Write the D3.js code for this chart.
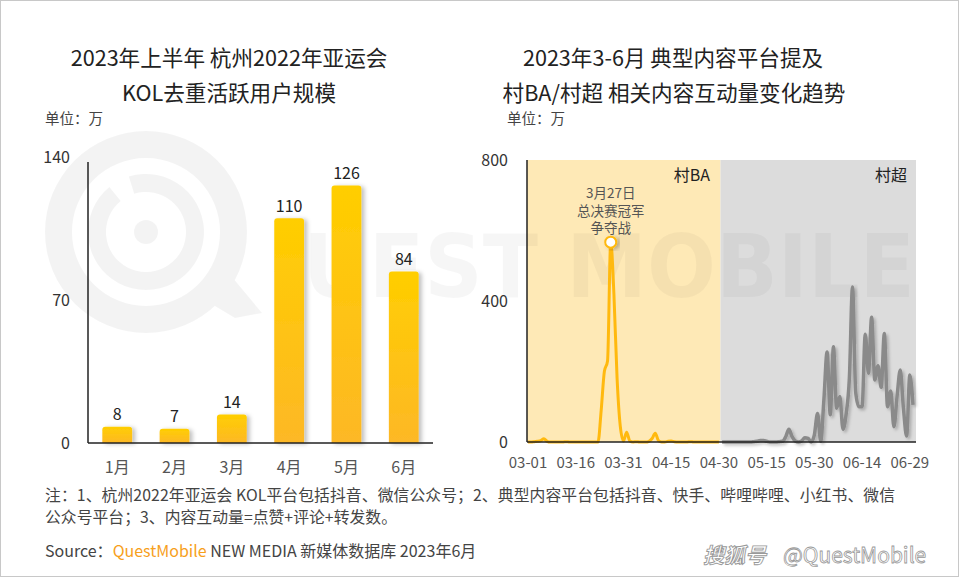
<!DOCTYPE html>
<html><head><meta charset="utf-8">
<script src="https://cdn.jsdelivr.net/npm/d3@7"></script>
<style>
html,body{margin:0;padding:0;background:#fff;}
svg{display:block;font-family:"Noto Sans CJK SC","Microsoft YaHei",sans-serif;}
</style></head>
<body><svg id="c" width="960" height="578"></svg>
<script>
// ---------- data ----------
const months = ["1月","2月","3月","4月","5月","6月"];
const kolUsers = [8, 7, 14, 110, 126, 84];
const leftTicks = [0, 70, 140];

// 村BA daily interaction (万), 03-01 .. 04-30
const cunBA = [0,0,1,2,4,9,2,0,0,0, 0,0,1,0,0,0,0,0,0,0,
               0,0,0,90,200,230,567,420,180,45, 3,28,3,0,1,0,0,0,2,10,
               25,4,0,0,2,3,1,0,0,0, 0,1,0,0,0,0,0,0,0,0, 0];
// 村超 daily interaction (万), 05-01 .. 06-30
const cunChao = [0,0,0,0,0,0,0,0,0,0, 1,2,4,4,2,0,0,0,1,2,
                 15,36,15,3,0,3,12,10,0,20, 81,2,120,255,77,270,96,129,36,80,
                 180,440,140,100,100,306,195,354,176,216, 155,308,100,145,43,130,204,95,17,190, 105];
const rightTicks = [0, 400, 800];
const dateTicks = ["03-01","03-16","03-31","04-15","04-30","05-15","05-30","06-14","06-29"];
const peakDate = "03-27";
const peakNote = ["3月27日","总决赛冠军","争夺战"];

// ---------- setup ----------
const svg = d3.select("#c");
const defs = svg.append("defs");
const g1 = defs.append("linearGradient").attr("id","barGrad").attr("x1",0).attr("y1",0).attr("x2",0).attr("y2",1);
g1.append("stop").attr("offset","0%").attr("stop-color","#FFCE00");
g1.append("stop").attr("offset","100%").attr("stop-color","#FDB826");
const sh = defs.append("filter").attr("id","shadow").attr("x","-20%").attr("y","-20%").attr("width","150%").attr("height","150%");
sh.append("feDropShadow").attr("dx",3).attr("dy",1).attr("stdDeviation",2).attr("flood-color","#000").attr("flood-opacity",0.25);
const sh2 = defs.append("filter").attr("id","lshadow").attr("x","-5%").attr("y","-5%").attr("width","110%").attr("height","115%");
sh2.append("feDropShadow").attr("dx",2).attr("dy",2).attr("stdDeviation",1.5).attr("flood-color","#000").attr("flood-opacity",0.22);

svg.append("rect").attr("x",0.5).attr("y",0.5).attr("width",958).attr("height",576)
  .attr("fill","#fff").attr("stroke","#c8c8c8");

// ---------- titles ----------
const title = (x, y, t, size, col) => svg.append("text").attr("x",x).attr("y",y).attr("text-anchor","middle")
  .attr("font-size",size).attr("fill",col||"#222").text(t);
title(229, 66, "2023年上半年 杭州2022年亚运会", 21.6);
title(229, 101, "KOL去重活跃用户规模", 21.6);
title(673, 66, "2023年3-6月 典型内容平台提及", 21.6);
title(674, 101, "村BA/村超 相关内容互动量变化趋势", 21.6);
svg.append("text").attr("x",45).attr("y",124).attr("font-size",14.5).attr("fill","#444").text("单位：万");
svg.append("text").attr("x",507).attr("y",124).attr("font-size",14.5).attr("fill","#444").text("单位：万");

// ---------- right chart backgrounds ----------
const parse = d3.timeParse("%Y-%m-%d");
const d0 = parse("2023-03-01"), dEnd = parse("2023-06-30");
const xR = d3.scaleTime().domain([d0, dEnd]).range([528, 913]);
const yR = d3.scaleLinear().domain([0, 800]).range([442, 160]);
const baDates = d3.timeDay.range(d0, parse("2023-05-01"));
const chaoDates = d3.timeDay.range(parse("2023-05-01"), parse("2023-07-01"));
const step = xR(parse("2023-03-02")) - xR(d0);
const split = xR(parse("2023-04-30")) + step/2;
svg.append("rect").attr("x",527).attr("y",yR(800)).attr("width",split-527).attr("height",yR(0)-yR(800)).attr("fill","#FEE9B6");
svg.append("rect").attr("x",split).attr("y",yR(800)).attr("width",916-split).attr("height",yR(0)-yR(800)).attr("fill","#DCDCDC");

// ---------- watermark ----------
const wm = svg.append("g").attr("fill","#000").attr("opacity",0.045);
wm.append("path")
  .attr("d", d3.arc()({innerRadius:74,outerRadius:101,startAngle:0,endAngle:2*Math.PI}))
  .attr("transform","translate(146,232)");
wm.append("path")
  .attr("d", d3.arc()({innerRadius:40,outerRadius:58,startAngle:-0.3,endAngle:5.6}))
  .attr("transform","translate(146,232)");
wm.append("circle").attr("cx",146).attr("cy",232).attr("r",12);
wm.append("path").attr("d","M205,300 L235,318 L262,313 L222,265 Z");
svg.append("text").attr("x",303).attr("y",297).attr("font-size",88)
  .attr("font-family","DejaVu Sans, sans-serif").attr("font-weight","bold")
  .attr("fill","#000").attr("opacity",0.032)
  .attr("textLength",612).attr("lengthAdjust","spacingAndGlyphs").text("UEST MOBILE");

// ---------- left chart ----------
const xL = d3.scaleBand().domain(months).range([88, 433]).paddingInner(0.48).paddingOuter(0.25);
const yL = d3.scaleLinear().domain([0, 140]).range([443, 157]);
const bw = xL.bandwidth(), r = 3;
svg.append("g").selectAll("path").data(months).join("path")
  .attr("fill","url(#barGrad)").attr("filter","url(#shadow)")
  .attr("d",(m,i)=>{
    const x0 = xL(m), y0 = yL(kolUsers[i]), yb = yL(0);
    return `M${x0},${yb} V${y0+r} Q${x0},${y0} ${x0+r},${y0} H${x0+bw-r} Q${x0+bw},${y0} ${x0+bw},${y0+r} V${yb} Z`;
  });
svg.append("g").selectAll("text").data(months).join("text")
  .attr("x",m=>xL(m)+bw/2).attr("y",(m,i)=>yL(kolUsers[i])-6.5)
  .attr("text-anchor","middle").attr("font-size",16).attr("fill","#222")
  .text((m,i)=>kolUsers[i]);
svg.append("g").selectAll("text").data(leftTicks).join("text")
  .attr("x",70).attr("y",d=>yL(d)+6).attr("text-anchor","end")
  .attr("font-size",16).attr("fill","#333").text(d=>d);
svg.append("g").selectAll("text").data(months).join("text")
  .attr("x",m=>xL(m)+bw/2).attr("y",473).attr("text-anchor","middle")
  .attr("font-size",16).attr("fill","#555").text(m=>m);
svg.append("line").attr("x1",88).attr("x2",88).attr("y1",162).attr("y2",yL(0)).attr("stroke","#222").attr("stroke-width",1.5);
svg.append("line").attr("x1",88).attr("x2",433).attr("y1",yL(0)).attr("y2",yL(0)).attr("stroke","#222").attr("stroke-width",1.5);

// ---------- right chart ----------
svg.append("g").selectAll("text").data(rightTicks).join("text")
  .attr("x",508).attr("y",d=>yR(d)+6).attr("text-anchor","end")
  .attr("font-size",16).attr("fill","#333").text(d=>d);
svg.append("g").selectAll("text").data(dateTicks).join("text")
  .attr("x",d=>xR(parse("2023-"+d))).attr("y",468).attr("text-anchor","middle")
  .attr("font-size",15).attr("fill","#555").text(d=>d);

const line = d3.line().x(d=>xR(d[0])).y(d=>yR(d[1])).curve(d3.curveMonotoneX);
svg.append("path").datum(chaoDates.map((d,i)=>[d,cunChao[i]]))
  .attr("d",line).attr("fill","none").attr("stroke","#8A8A8A").attr("stroke-width",3.5)
  .attr("stroke-linejoin","round").attr("filter","url(#lshadow)");
svg.append("path").datum(baDates.map((d,i)=>[d,cunBA[i]]))
  .attr("d",line).attr("fill","none").attr("stroke","#FFB90F").attr("stroke-width",3)
  .attr("stroke-linejoin","round");

svg.append("line").attr("x1",527).attr("x2",527).attr("y1",yR(800)).attr("y2",yR(0)).attr("stroke","#222").attr("stroke-width",1.5);
svg.append("line").attr("x1",527).attr("x2",916).attr("y1",yR(0)).attr("y2",yR(0)).attr("stroke","#222").attr("stroke-width",1.5);

const pd = parse("2023-"+peakDate);
const pv = cunBA[d3.timeDay.count(d0, pd)];
svg.append("circle").attr("cx",xR(pd)).attr("cy",yR(pv)).attr("r",5.5)
  .attr("fill","#fff").attr("stroke","#FFB90F").attr("stroke-width",2).attr("filter","url(#shadow)");
svg.append("g").selectAll("text").data(peakNote).join("text")
  .attr("x",xR(pd)).attr("y",(d,i)=>198+i*17.5).attr("text-anchor","middle")
  .attr("font-size",13.5).attr("fill","#555").text(d=>d);

svg.append("text").attr("x",710).attr("y",181).attr("text-anchor","end").attr("font-size",16).attr("fill","#222").text("村BA");
svg.append("text").attr("x",907).attr("y",181).attr("text-anchor","end").attr("font-size",16).attr("fill","#222").text("村超");

// ---------- footer ----------
svg.append("text").attr("x",45).attr("y",501).attr("font-size",15.8).attr("fill","#444")
  .attr("textLength",850)
  .text("注：1、杭州2022年亚运会 KOL平台包括抖音、微信公众号；2、典型内容平台包括抖音、快手、哔哩哔哩、小红书、微信");
svg.append("text").attr("x",45).attr("y",523).attr("font-size",15.8).attr("fill","#444")
  .attr("textLength",352)
  .text("公众号平台；3、内容互动量=点赞+评论+转发数。");
const src = svg.append("text").attr("x",45).attr("y",557).attr("font-size",16).attr("fill","#444");
src.append("tspan").text("Source：");
src.append("tspan").attr("fill","#F7A01C").text("QuestMobile");
src.append("tspan").text(" NEW MEDIA 新媒体数据库 2023年6月");

svg.append("text").attr("x",703).attr("y",563).attr("font-size",21).attr("font-weight","bold")
  .attr("font-style","italic").attr("fill","#fff").attr("stroke","#999").attr("stroke-width",0.9).text("搜狐号");
svg.append("text").attr("x",783).attr("y",563).attr("font-size",21)
  .attr("fill","#fff").attr("stroke","#999").attr("stroke-width",0.8).text("@QuestMobile");
</script></body></html>
